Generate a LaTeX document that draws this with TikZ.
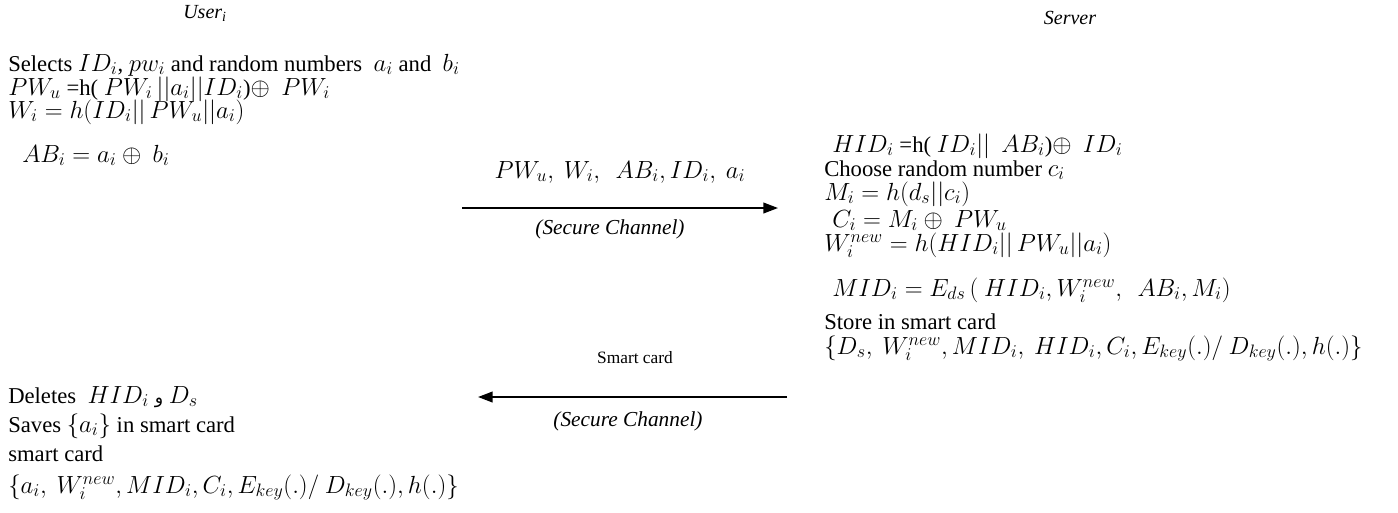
\RequirePackage{fix-cm}
\documentclass[tikz,border=0pt]{standalone}
\usepackage{amsmath, amssymb}
\usepackage{fontspec}
\setmainfont{Liberation Serif}
\newfontfamily\arabicfont[Script=Arabic]{DejaVu Sans}
\TeXXeTstate=1
\DeclareMathSizes{17}{18.6}{13.5}{10.5}
\usetikzlibrary{arrows.meta}

\tikzset{
  msg/.style={anchor=base west, inner sep=0pt, font=\fontsize{17}{20}\selectfont},
  party/.style={anchor=base, inner sep=0pt, font=\fontsize{15}{18}\selectfont\itshape},
  chan/.style={anchor=base, inner sep=0pt, font=\fontsize{16}{19}\selectfont\itshape},
  flow/.style={-{Triangle[length=11pt,width=8pt]}, line width=1.4pt},
}

\begin{document}
\begin{tikzpicture}[x=0.75pt,y=-0.75pt]
        \useasboundingbox (0,0) rectangle (1398,512);
        \node[party] (user) at (205,18) {User\textsubscript{i}};
        \node[party] (server) at (1070,24) {Server};

        % user registration
        \node[msg] (sel) at (8,71) {Selects $ID_i$, $pw_i$ and random numbers \ $a_i$ and \ $b_i$};
        \node[msg] (pwu) at (8,95) {$PW_u$ =h( $PW_i\,||a_i||ID_i$)$\oplus$ \ $PW_i$};
        \node[msg] (wi) at (8,118) {$W_i = h(ID_i||\, PW_u||a_i)$};
        \node[msg] (abi) at (22,162) {$AB_i = a_i \oplus\ b_i$};

        \coordinate (req start) at (462,208);
        \coordinate (req end) at (778,208);
        \draw[flow] (req start) -- (req end);
        \node[msg, anchor=base] (req) at (620,178) {$PW_u,\ W_i,\ \ AB_i, ID_i,\ a_i$};
        \node[chan] (req chan) at (610,234) {(Secure Channel)};

        % server side
        \node[msg] (hid) at (832,152) {$HID_i$ =h( $ID_i||$ \ $AB_i$)$\oplus$ \ $ID_i$};
        \node[msg] (ci) at (824,176) {Choose random number $c_i$};
        \node[msg] (mi) at (824,200) {$M_i = h(d_s||c_i)$};
        \node[msg] (cci) at (832,227) {$C_i = M_i \oplus\ PW_u$};
        \node[msg] (wnew) at (824,251) {$W_i^{new} = h(HID_i||\, PW_u||a_i)$};
        \node[msg] (mid) at (832,296) {$MID_i = E_{ds}\, (\ HID_i, W_i^{new},\ \ AB_i, M_i)$};
        \node[msg] (store) at (824,329) {Store in smart card};
        \node[msg] (card s) at (824,354) {$\{D_s,\ W_i^{new}, MID_i,\ HID_i, C_i, E_{key}(.)/\ D_{key}(.), h(.)\}$};

        \coordinate (rep start) at (787,397);
        \coordinate (rep end) at (478,397);
        \draw[flow] (rep start) -- (rep end);
        \node[anchor=base, inner sep=0pt, font=\fontsize{13}{16}\selectfont] (rep) at (635,363) {Smart card};
        \node[chan] (rep chan) at (628,426) {(Secure Channel)};

        % user stores
        \node[msg] (del) at (8,403) {Deletes \ $HID_i$ {\fontsize{13}{16}\arabicfont\beginR و\endR} $D_s$};
        \node[msg] (save) at (8,432) {Saves $\{a_i\}$ in smart card};
        \node[msg] (card) at (8,461) {smart card};
        \node[msg] (card u) at (8,493) {$\{a_i,\ W_i^{new}, MID_i, C_i, E_{key}(.)/\ D_{key}(.), h(.)\}$};
\end{tikzpicture}
\end{document}
